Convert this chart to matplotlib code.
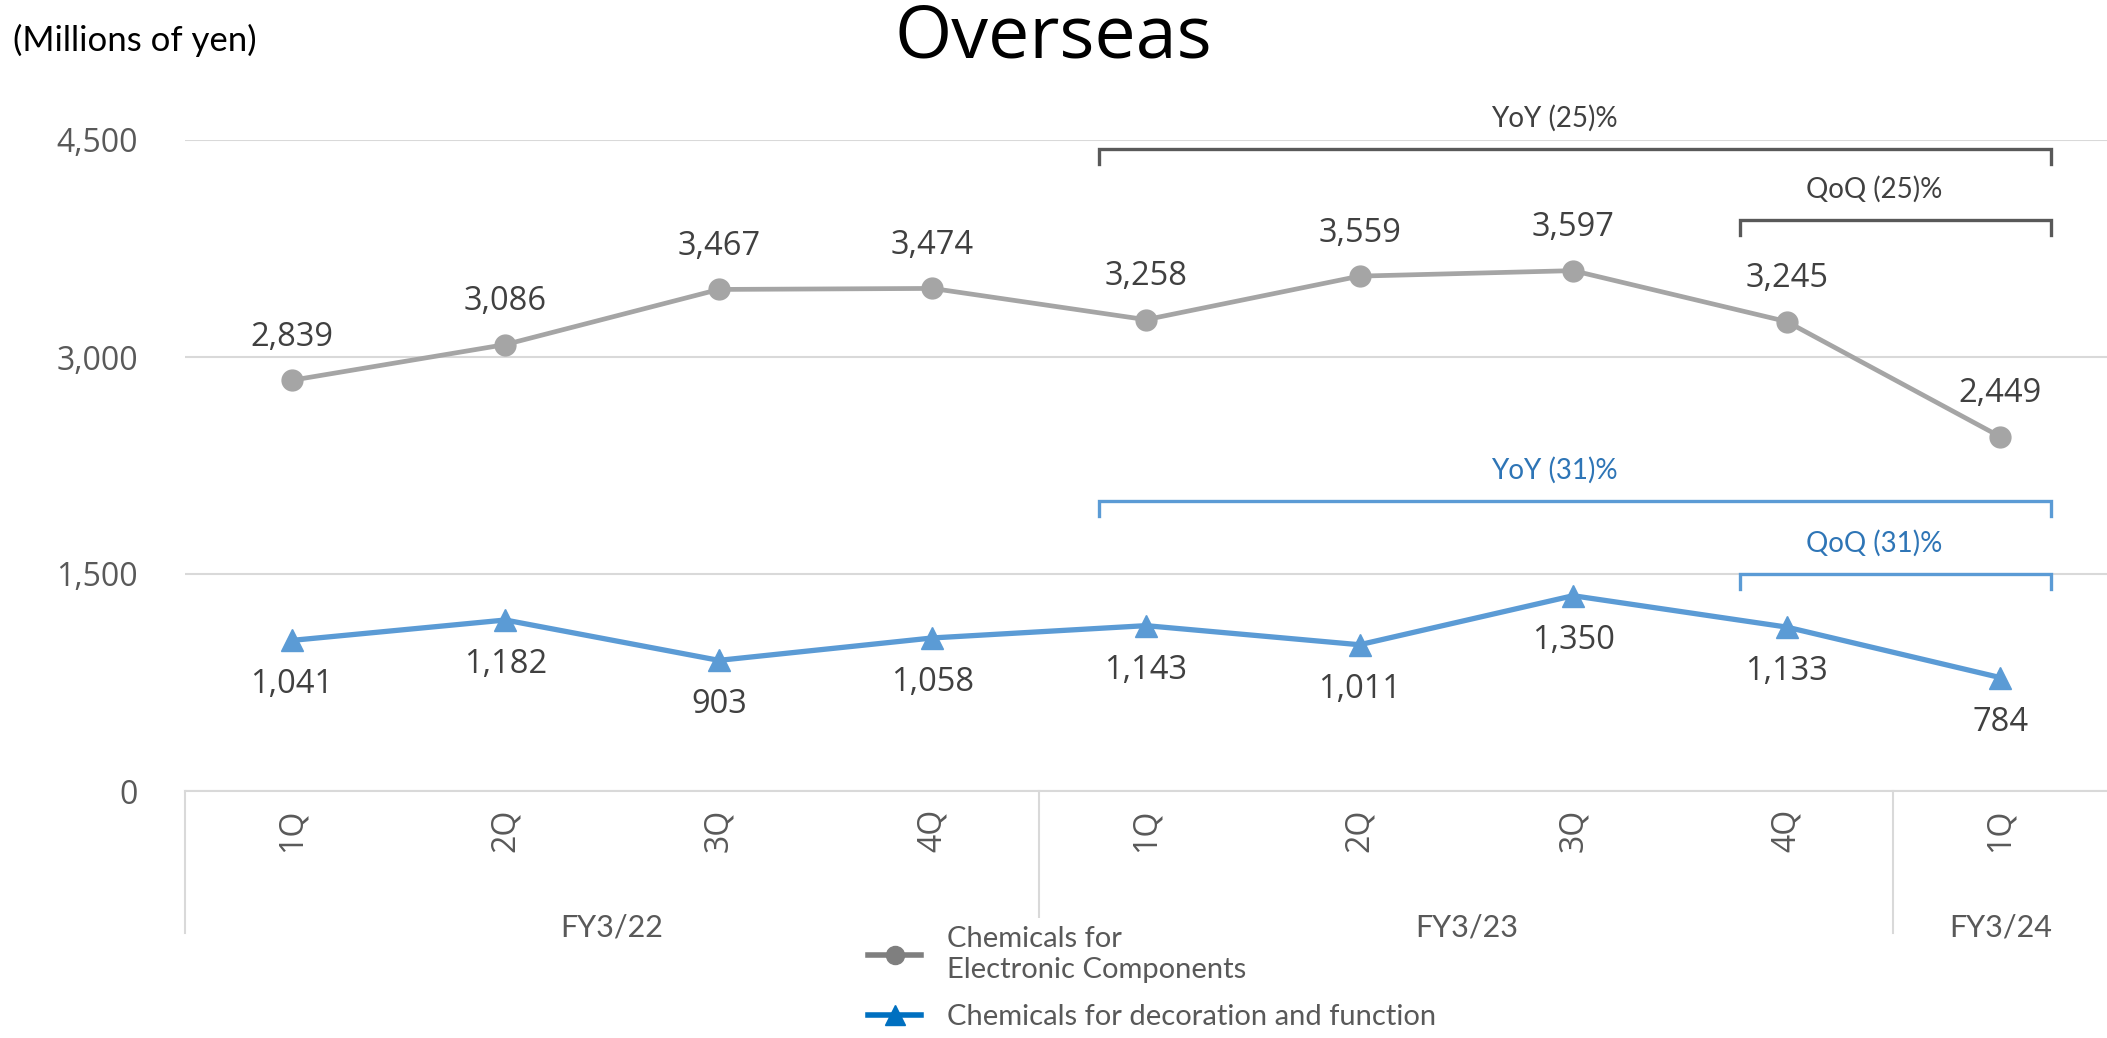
import matplotlib
matplotlib.use("Agg")
import matplotlib.pyplot as plt
from matplotlib.lines import Line2D

# data
quarters = ["1Q", "2Q", "3Q", "4Q", "1Q", "2Q", "3Q", "4Q", "1Q"]
years = ["FY3/22", "FY3/23", "FY3/24"]
year_spans = [(0, 4), (4, 8), (8, 9)]
electronic = [2839, 3086, 3467, 3474, 3258, 3559, 3597, 3245, 2449]
decoration = [1041, 1182, 903, 1058, 1143, 1011, 1350, 1133, 784]
series_names = ["Chemicals for\nElectronic Components",
                "Chemicals for decoration and function"]
# brackets: (label, start index, end index, y level)
elec_brackets = [("YoY (25)%", 4, 8, 4438), ("QoQ (25)%", 7, 8, 3947)]
deco_brackets = [("YoY (31)%", 4, 8, 2005), ("QoQ (31)%", 7, 8, 1500)]
yticks = [0, 1500, 3000, 4500]

W, H = 2107, 1038
fig = plt.figure(figsize=(W / 100, H / 100), dpi=100)
ax = fig.add_axes([185 / W, 1 - 791 / H, (W - 185) / W, 651 / H])

x = list(range(len(quarters)))
ax.set_xlim(-0.5, 8.5)
ax.set_ylim(0, 4500)

gray = "#A5A5A5"
blue = "#5B9BD5"
txt = "#404040"
grid = "#D9D9D9"
label_font = "Open Sans"
cal_font = "Lato"

ax.plot(x, electronic, color=gray, lw=3.4, marker="o", ms=15, zorder=3)
ax.plot(x, decoration, color=blue, lw=3.8, marker="^", ms=16, zorder=3)

for i, v in enumerate(electronic):
    ax.annotate(f"{v:,}", (i, v), xytext=(0, 31), textcoords="offset points",
                ha="center", va="center", fontsize=23.5, color=txt, family=label_font)
for i, v in enumerate(decoration):
    ax.annotate(f"{v:,}", (i, v), xytext=(0, -32), textcoords="offset points",
                ha="center", va="center", fontsize=23.5, color=txt, family=label_font)


def bracket(items, lcolor, tcolor):
    for lab, a, b, y in items:
        x0, x1 = a - 0.22, b + 0.24
        ax.plot([x0, x0, x1, x1], [y - 105, y, y, y - 105], color=lcolor,
                lw=2.4, clip_on=False, solid_joinstyle="miter", zorder=4)
        ax.annotate(lab, ((x0 + x1) / 2 - 0.1, y), xytext=(0, 22),
                    textcoords="offset points", ha="center", va="center",
                    fontsize=20, color=tcolor, family=cal_font)


bracket(elec_brackets, "#595959", "#404040")
bracket(deco_brackets, blue, "#2E75B6")

# axes styling
for s in ["top", "right", "left"]:
    ax.spines[s].set_visible(False)
ax.spines["bottom"].set_color(grid)
ax.spines["bottom"].set_linewidth(1.5)
ax.set_yticks(yticks)
ax.set_yticklabels([f"{t:,}" for t in yticks], family=label_font, fontsize=23, color="#595959")
ax.yaxis.grid(True, color=grid, lw=1.5)
ax.set_axisbelow(True)
ax.tick_params(axis="y", length=0, pad=34)
ax.set_xticks(x)
ax.set_xticklabels(quarters, rotation=90, family=label_font, fontsize=23, color="#595959")
ax.tick_params(axis="x", length=0, pad=13)

# category group lines and labels
tr = ax.get_xaxis_transform()
for a, b in year_spans:
    ax.plot([a - 0.5, a - 0.5], [0, -0.218], transform=tr, color=grid, lw=1.5,
            clip_on=False, zorder=1)
for (a, b), name in zip(year_spans, years):
    ax.text((a + b - 1) / 2, -0.209, name, transform=tr, ha="center", va="center",
            fontsize=22, color="#595959", family=cal_font, zorder=8)

fig.text(0.5, 1 - 38 / H, "Overseas", ha="center", va="center", fontsize=53,
         family=label_font, color="black")
fig.text(13 / W, 1 - 40 / H, "(Millions of yen)", ha="left", va="center", fontsize=25,
         family=cal_font, color="black")

handles = [Line2D([], [], color="#7F7F7F", lw=4, marker="o", ms=13),
           Line2D([], [], color="#0070C0", lw=4, marker="^", ms=14)]
leg = ax.legend(handles, series_names, loc="upper left",
                bbox_to_anchor=(845 / W, 1 - 903 / H), bbox_transform=fig.transFigure,
                frameon=True, prop={"family": cal_font, "size": 21}, handlelength=1.8,
                labelspacing=0.75, handletextpad=0.9, borderpad=0.3)
leg.get_frame().set_edgecolor("none")
leg.get_frame().set_facecolor("white")
leg.get_frame().set_alpha(1)
leg.set_zorder(2)
for t in leg.get_texts():
    t.set_color("#595959")

fig.savefig("out.png", dpi=100)
